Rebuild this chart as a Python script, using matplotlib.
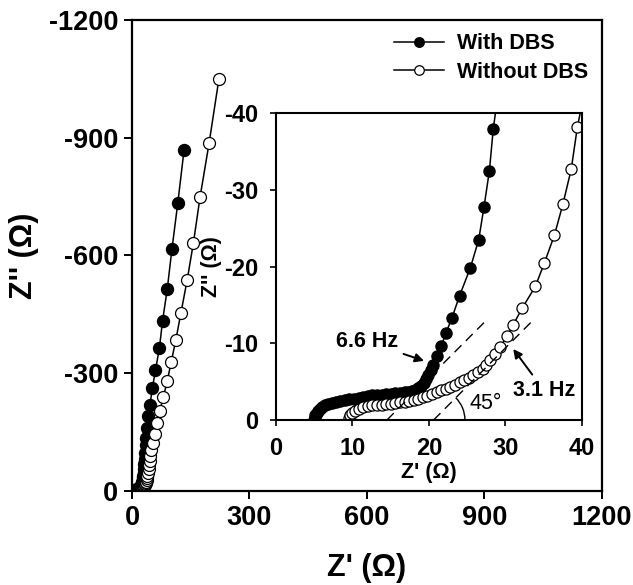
import numpy as np
import matplotlib.pyplot as plt
from matplotlib.patches import Arc

plt.rcParams['font.family'] = ['Liberation Sans', 'DejaVu Sans']
plt.rcParams['font.weight'] = 'bold'
plt.rcParams['axes.labelweight'] = 'bold'
plt.rcParams['axes.unicode_minus'] = False

# With DBS (filled circles): Z' and Z'' in ohm
with_zre = [5.0, 5.05, 5.15, 5.3, 5.5, 5.75, 6.05, 6.4, 6.8, 7.3, 7.8, 8.4, 9.0, 9.6,
            10.2, 10.8, 11.4, 12.0, 12.6, 13.2, 13.8, 14.4, 15.0, 15.6, 16.2, 16.8,
            17.3, 17.8, 18.2, 18.6, 18.95, 19.3, 19.6, 19.9, 20.2, 20.5, 21.0, 21.6,
            22.2, 23.0, 24.0, 25.4, 26.5, 27.2, 27.9, 28.4, 29.5, 30.5, 31.5, 32.5,
            33.5, 35, 36.5, 38, 40, 46, 52, 60, 70, 78, 90, 102, 117, 133]
with_zim = [0.0, -0.3, -0.6, -0.9, -1.2, -1.5, -1.75, -1.95, -2.1, -2.25, -2.4, -2.5, -2.6, -2.7,
            -2.8, -2.9, -3.0, -3.1, -3.2, -3.25, -3.3, -3.4, -3.45, -3.5, -3.55, -3.6,
            -3.7, -3.8, -3.95, -4.15, -4.45, -4.85, -5.35, -5.9, -6.5, -7.2, -8.3, -9.6,
            -11.3, -13.3, -16.2, -19.8, -23.5, -27.8, -32.5, -37.9, -46, -56, -68, -82,
            -98, -116, -136, -160, -190, -220, -262, -308, -364, -433, -514, -616, -734, -869]

# Without DBS (open circles)
without_zre = [9.5, 9.55, 9.7, 9.95, 10.3, 10.8, 11.4, 12.0, 12.6, 13.2, 13.8, 14.4, 15.0,
               15.6, 16.2, 16.8, 17.4, 18.0, 18.6, 19.2, 19.8, 20.4, 21.0, 21.6, 22.2,
               22.8, 23.4, 24.0, 24.6, 25.2, 25.8, 26.4, 27.0, 27.5, 28.0, 28.6, 29.3,
               30.2, 31.0, 32.2, 33.9, 35.1, 36.4, 37.5, 38.6, 39.4, 41, 42.5, 44, 45.5,
               47, 49, 53, 58, 64, 71, 80, 90, 100, 112, 125, 141, 157, 174, 197, 222]
without_zim = [0.0, -0.3, -0.6, -0.9, -1.2, -1.45, -1.65, -1.8, -1.9, -1.95, -2.0, -2.05, -2.1,
               -2.2, -2.3, -2.4, -2.5, -2.65, -2.8, -2.95, -3.15, -3.35, -3.6, -3.85, -4.1,
               -4.35, -4.6, -4.9, -5.2, -5.5, -5.85, -6.25, -6.7, -7.2, -7.8, -8.6, -9.5,
               -10.9, -12.4, -14.6, -17.4, -20.5, -24.1, -28.1, -32.7, -38.2, -46, -55, -65, -76,
               -88, -104, -122, -145, -172, -204, -239, -280, -328, -385, -454, -538, -633, -750, -887, -1050]

main_ticks = [0, 300, 600, 900, 1200]
main_yticks = [0, -300, -600, -900, -1200]
inset_ticks = [0, 10, 20, 30, 40]
inset_yticks = [0, -10, -20, -30, -40]

# 45 degree guide lines and angle mark in the inset
guide1 = ([14.5, 27.2], [0, -12.7])
guide2 = ([20.6, 33.4], [0, -12.8])

fig = plt.figure(figsize=(6.33, 5.85), dpi=100)
ax = fig.add_axes([0.2085, 0.1607, 0.7425, 0.8051])

ax.plot(with_zre, with_zim, '-o', color='black', lw=1.1, ms=8.6,
        mfc='black', mec='black', label='With DBS')
ax.plot(without_zre, without_zim, '-o', color='black', lw=1.1, ms=8.6,
        mfc='white', mec='black', mew=0.9, label='Without DBS')
ax.set_xlim(0, 1200)
ax.set_ylim(0, -1200)
ax.set_xticks(main_ticks)
ax.set_yticks(main_yticks)
ax.tick_params(labelsize=19.5, length=6, width=1.4, pad=4)
for s in ax.spines.values():
    s.set_linewidth(1.6)
ax.set_xlabel("Z' (Ω)", fontsize=22, labelpad=16)
ax.set_ylabel("Z'' (Ω)", fontsize=22, labelpad=7)
ax.legend(loc='upper left', bbox_to_anchor=(0.558, 0.972), frameon=False,
          fontsize=15.5, handlelength=2.3, handletextpad=0.6, labelspacing=0.35,
          borderpad=0, borderaxespad=0, markerscale=0.8)

ins = fig.add_axes([0.436, 0.282, 0.4834, 0.5248])
ins.plot(with_zre, with_zim, '-o', color='black', lw=1.1, ms=8,
         mfc='black', mec='black')
ins.plot(without_zre, without_zim, '-o', color='black', lw=1.1, ms=8,
         mfc='white', mec='black', mew=0.9)
ins.plot(*guide1, color='black', lw=1, ls=(0, (7, 4.5)))
ins.plot(*guide2, color='black', lw=1, ls=(0, (7, 4.5)))
ins.add_patch(Arc((20.6, 0), 8.2, 8.2, theta1=-45, theta2=0, color='black', lw=1))
ins.text(27.4, -2.1, '45°', fontsize=15.5, fontweight='normal', ha='center', va='center')
ins.annotate('6.6 Hz', xy=(19.7, -7.6), xytext=(11.9, -10.2), fontsize=15.5,
             ha='center', va='center',
             arrowprops=dict(arrowstyle='-|>', color='black', lw=1.4, mutation_scale=13))
ins.annotate('3.1 Hz', xy=(30.8, -9.55), xytext=(35.0, -3.9), fontsize=15.5,
             ha='center', va='center',
             arrowprops=dict(arrowstyle='-|>', color='black', lw=1.4, mutation_scale=13))
ins.set_xlim(0, 40)
ins.set_ylim(0, -40)
ins.set_xticks(inset_ticks)
ins.set_yticks(inset_yticks)
ins.tick_params(labelsize=17, length=4.5, width=1.2)
ins.tick_params(axis='x', pad=8)
ins.tick_params(axis='y', pad=8)
for s in ins.spines.values():
    s.set_linewidth(1.5)
ins.set_xlabel("Z' (Ω)", fontsize=15.5, labelpad=1)
ins.set_ylabel("Z'' (Ω)", fontsize=15.5, labelpad=2)

fig.savefig('out.png', dpi=100)
